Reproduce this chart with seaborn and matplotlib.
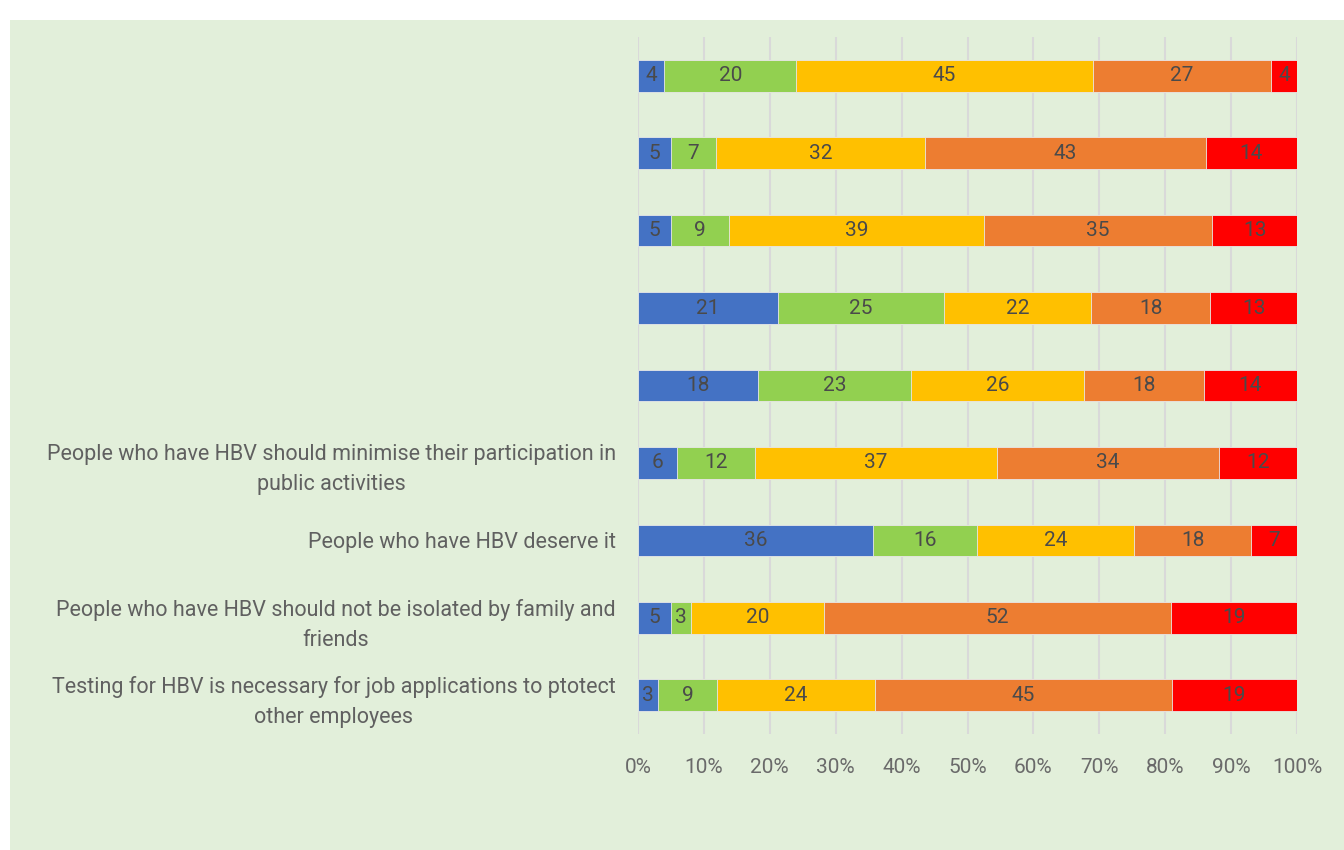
import matplotlib
matplotlib.use("Agg")
import matplotlib.pyplot as plt
from matplotlib.patches import Rectangle
from matplotlib import font_manager
import numpy as np
import pandas as pd
import seaborn as sns

# statements (top to bottom); the top five have no visible labels in the reference
statements = [
    "", "", "", "", "",
    "People who have HBV should minimise their participation in\npublic activities",
    "People who have HBV deserve it",
    "People who have HBV should not be isolated by family and\nfriends",
    "Testing for HBV is necessary for job applications to ptotect\nother employees",
]
levels = ["1", "2", "3", "4", "5"]
level_colors = ["#4472C4", "#92D050", "#FFC000", "#ED7D31", "#FF0000"]

s1 = [4, 5, 5, 21, 18, 6, 36, 5, 3]
s2 = [20, 7, 9, 25, 23, 12, 16, 3, 9]
s3 = [45, 32, 39, 22, 26, 37, 24, 20, 24]
s4 = [27, 43, 35, 18, 18, 34, 18, 52, 45]
s5 = [4, 14, 13, 13, 14, 12, 7, 19, 19]

sns.set_theme(style="white")
names = {f.name for f in font_manager.fontManager.ttflist}
fam = "Liberation Sans Narrow" if "Liberation Sans Narrow" in names else "Roboto"
plt.rcParams["font.family"] = [fam, "DejaVu Sans"]

vals = np.array([s1, s2, s3, s4, s5], dtype=float)
share = vals / vals.sum(axis=0) * 100
cum = np.cumsum(share, axis=0)
rows = [f"r{i}" for i in range(len(statements))]

fig = plt.figure(figsize=(13.44, 8.5), dpi=100, facecolor="white")
fig.patches.append(Rectangle((10 / 1344, 0), 1 - 10 / 1344, 1 - 20 / 850,
                             transform=fig.transFigure, facecolor="#E2EFDA",
                             edgecolor="none", zorder=-10))
ax = fig.add_axes([638 / 1344, 1 - 734 / 850, (1297 - 638) / 1344, (734 - 37) / 850])
ax.set_zorder(2)
ax.set_facecolor("none")

# draw from the full bar down so shorter cumulative bars sit on top
for k in range(len(levels) - 1, -1, -1):
    df = pd.DataFrame({"row": rows, "cum": cum[k]})
    sns.barplot(data=df, x="cum", y="row", order=rows, orient="h",
                color=level_colors[k], saturation=1, width=0.41,
                edgecolor="#E8E8E8", linewidth=0.6, ax=ax, zorder=3)

for k in range(len(levels)):
    start = cum[k] - share[k]
    for i in range(len(rows)):
        ax.text(start[i] + share[k][i] / 2, i, f"{int(vals[k][i])}",
                ha="center", va="center", fontsize=15, color="#4a4a4a", zorder=5)

ax.set_xlim(0, 100)
ax.set_ylim(len(rows) - 0.5, -0.5)
ax.set_xticks(np.arange(0, 101, 10))
ax.set_xticklabels([f"{t}%" for t in range(0, 101, 10)])
ax.set_yticks(range(len(rows)))
ax.set_yticklabels(statements, multialignment="center", linespacing=1.55)
ax.grid(axis="x", color="#D9D9D9", linewidth=1.5, zorder=0)
ax.set_axisbelow(True)
for s in ax.spines.values():
    s.set_visible(False)
ax.tick_params(axis="x", length=0, pad=17, labelsize=15, labelcolor="#6a6a6a")
ax.tick_params(axis="y", length=0, pad=16, labelsize=15.5, labelcolor="#606060")
ax.set_xlabel("")
ax.set_ylabel("")

fig.savefig("out.png", dpi=100, facecolor="white")
